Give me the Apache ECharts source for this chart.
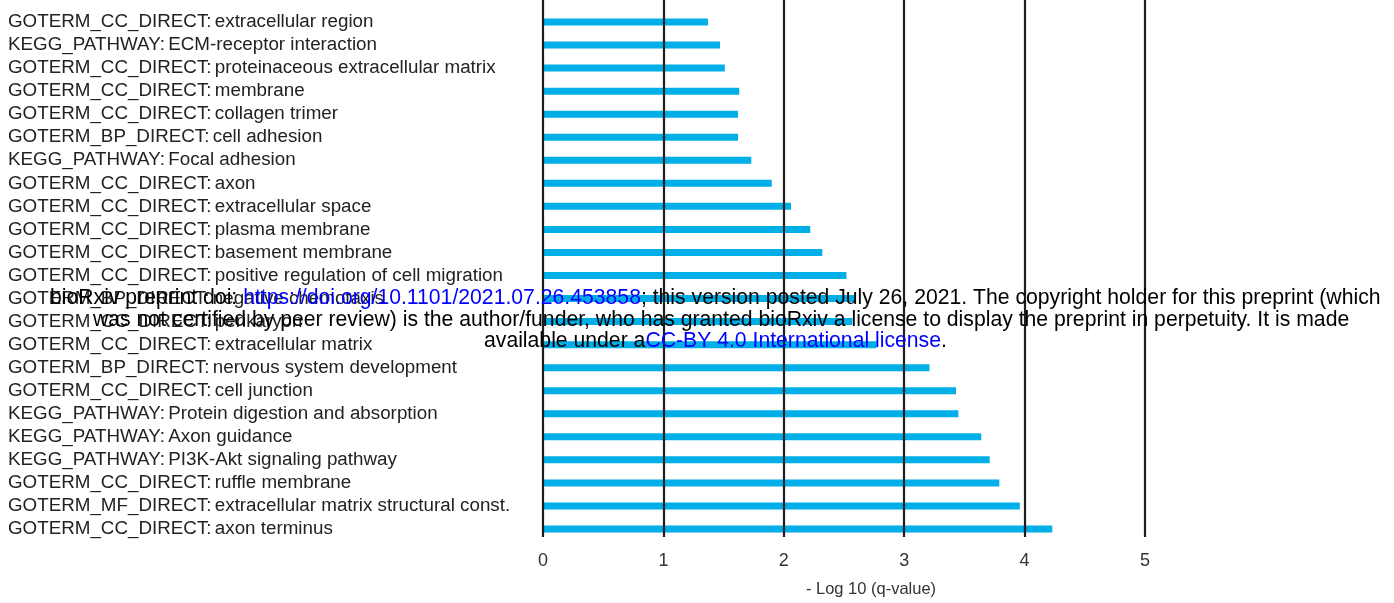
<!DOCTYPE html>
<html><head><meta charset="utf-8">
<script src="https://cdn.jsdelivr.net/npm/echarts@6/dist/echarts.min.js"></script>
<style>html,body{margin:0;padding:0;background:#fff}#c{width:1394px;height:603px}</style>
</head><body><div id="c"></div>
<script>
const categories = [
  "GOTERM_CC_DIRECT: extracellular region",
  "KEGG_PATHWAY: ECM-receptor interaction",
  "GOTERM_CC_DIRECT: proteinaceous extracellular matrix",
  "GOTERM_CC_DIRECT: membrane",
  "GOTERM_CC_DIRECT: collagen trimer",
  "GOTERM_BP_DIRECT: cell adhesion",
  "KEGG_PATHWAY: Focal adhesion",
  "GOTERM_CC_DIRECT: axon",
  "GOTERM_CC_DIRECT: extracellular space",
  "GOTERM_CC_DIRECT: plasma membrane",
  "GOTERM_CC_DIRECT: basement membrane",
  "GOTERM_CC_DIRECT: positive regulation of cell migration",
  "GOTERM_BP_DIRECT: negative chemotaxis",
  "GOTERM_CC_DIRECT: perikaryon",
  "GOTERM_CC_DIRECT: extracellular matrix",
  "GOTERM_BP_DIRECT: nervous system development",
  "GOTERM_CC_DIRECT: cell junction",
  "KEGG_PATHWAY: Protein digestion and absorption",
  "KEGG_PATHWAY: Axon guidance",
  "KEGG_PATHWAY: PI3K-Akt signaling pathway",
  "GOTERM_CC_DIRECT: ruffle membrane",
  "GOTERM_MF_DIRECT: extracellular matrix structural const.",
  "GOTERM_CC_DIRECT: axon terminus"
];
const values = [1.37, 1.47, 1.51, 1.63, 1.62, 1.62, 1.73, 1.90, 2.06, 2.22, 2.32, 2.52, 2.59, 2.57, 2.77, 3.21, 3.43, 3.45, 3.64, 3.71, 3.79, 3.96, 4.23];
const xTicks = [0, 1, 2, 3, 4, 5];
const xName = "- Log 10 (q-value)";
const noticeLines = [
  [["bioRxiv preprint doi: ", "k"], ["https://doi.org/10.1101/2021.07.26.453858", "b"], ["; this version posted July 26, 2021. The copyright holder for this preprint (which", "k"]],
  [["was not certified by peer review) is the author/funder, who has granted bioRxiv a license to display the preprint in perpetuity. It is made", "k"]],
  [["available under a", "k"], ["CC-BY 4.0 International license", "b"], [".", "k"]]
];

const chart = echarts.init(document.getElementById('c'));
const FONT = '"Liberation Sans", Arial, Helvetica, sans-serif';
const NF = 21.2;
const textRich = {
  k: { fill: '#000', fontSize: NF, fontFamily: FONT },
  b: { fill: '#0000ff', fontSize: NF, fontFamily: FONT }
};
const noticePos = [[50, 298], [93, 320], [484, 341]];
const graphics = noticeLines.map((segs, i) => ({
  type: 'text', x: noticePos[i][0], y: noticePos[i][1], z: 100,
  style: {
    text: segs.map(s => '{' + s[1] + '|' + s[0] + '}').join(''),
    rich: textRich, fontFamily: FONT, fontSize: NF, fill: '#000',
    verticalAlign: 'middle', align: 'left'
  }
}));

chart.setOption({
  animation: false,
  backgroundColor: '#fff',
  grid: [
    { left: 543, width: 602, top: 10.5, height: 530 },
    { left: 543, width: 602, top: 0, height: 553 }
  ],
  xAxis: [
    { gridIndex: 0, type: 'value', min: 0, max: 5, interval: 1, show: false },
    { gridIndex: 1, type: 'value', min: 0, max: 5, interval: 1, z: 5,
      axisLine: { show: false }, axisTick: { show: false },
      splitLine: { show: true, lineStyle: { color: '#1e1e1e', width: 2.2 } },
      axisLabel: { color: '#333', fontSize: 18, fontFamily: FONT, margin: 15,
        formatter: v => xTicks.includes(v) ? String(v) : '' },
      name: xName, nameLocation: 'middle', nameGap: 44,
      nameTextStyle: { color: '#333', fontSize: 16.5, fontFamily: FONT, padding: [0, 0, 0, 54] }
    }
  ],
  yAxis: [
    { gridIndex: 0, type: 'category', data: categories, inverse: true,
      axisLine: { show: false }, axisTick: { show: false }, splitLine: { show: false },
      axisLabel: { align: 'left', margin: 535, color: '#222', fontFamily: FONT,
        formatter: v => {
          const i = v.indexOf(': ');
          return '{p|' + v.slice(0, i + 1) + '} {s|' + v.slice(i + 2) + '}';
        },
        rich: {
          p: { fontSize: 18.8, color: '#222', fontFamily: FONT },
          s: { fontSize: 18.8, color: '#222', fontFamily: FONT }
        }
      } },
    { gridIndex: 1, type: 'value', show: false, min: 0, max: 1 }
  ],
  series: [{
    type: 'bar', xAxisIndex: 0, yAxisIndex: 0, data: values, barWidth: 7,
    itemStyle: { color: '#00aee8' }, z: 2
  }],
  graphic: graphics
});
</script></body></html>
